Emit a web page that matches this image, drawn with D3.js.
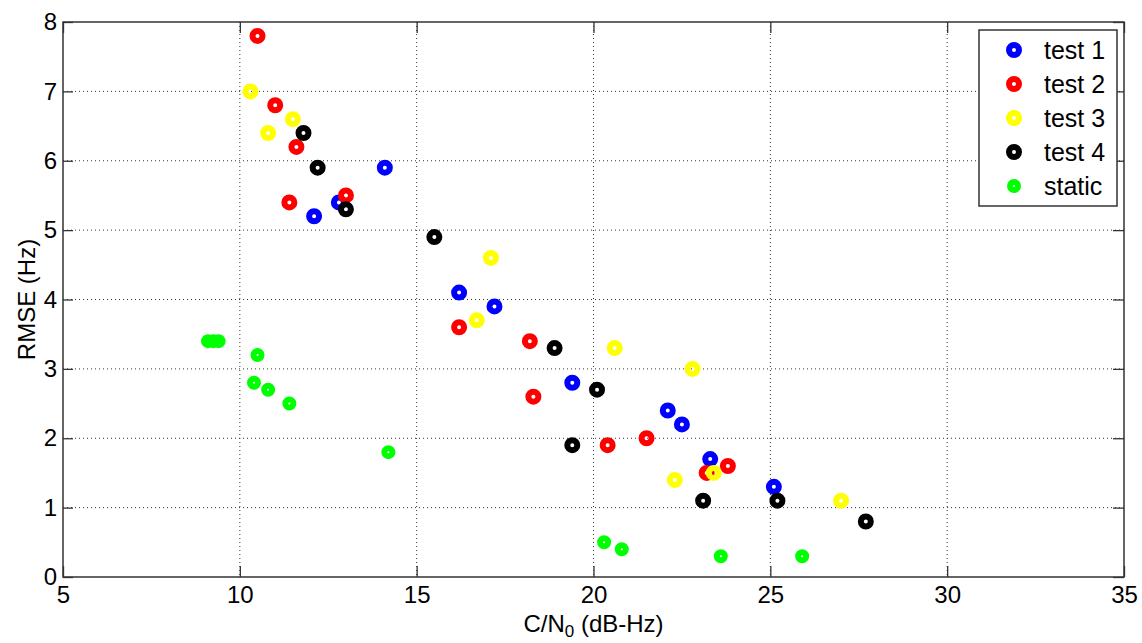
<!doctype html>
<html lang="en">
<head>
<meta charset="utf-8">
<title>RMSE vs C/N0</title>
<style>
body { margin: 0; background: #fff; }
svg text { font-family: "Liberation Sans", Arial, sans-serif; fill: #000; }
.grid line { stroke: #333; stroke-width: 1; stroke-dasharray: 1,3; }
</style>
<script src="https://d3js.org/d3.v7.min.js"></script>
</head>
<body>
<div id="chart"></div>
<script>

// C/N0 (dB-Hz) and RMSE (Hz)
let test1_x = [14.1, 12.1, 12.8, 16.2, 17.2, 19.4, 22.1, 22.5, 23.3, 25.1];
let test1_y = [5.9, 5.2, 5.4, 4.1, 3.9, 2.8, 2.4, 2.2, 1.7, 1.3];

let test2_x = [10.5, 11.0, 11.6, 11.4, 13.0, 16.2, 18.2, 18.3, 21.5, 20.4, 23.8, 23.2];
let test2_y = [7.8, 6.8, 6.2, 5.4, 5.5, 3.6, 3.4, 2.6, 2.0, 1.9, 1.6, 1.5];

let test3_x = [10.3, 11.5, 10.8, 17.1, 16.7, 20.6, 22.8, 23.4, 22.3, 27.0];
let test3_y = [7.0, 6.6, 6.4, 4.6, 3.7, 3.3, 3.0, 1.5, 1.4, 1.1];

let test4_x = [11.8, 12.2, 13.0, 15.5, 18.9, 20.1, 19.4, 23.1, 25.2, 27.7];
let test4_y = [6.4, 5.9, 5.3, 4.9, 3.3, 2.7, 1.9, 1.1, 1.1, 0.8];

let static_x = [9.1, 9.25, 9.4, 10.5, 10.4, 10.8, 11.4, 14.2, 20.3, 20.8, 23.6, 25.9];
let static_y = [3.4, 3.4, 3.4, 3.2, 2.8, 2.7, 2.5, 1.8, 0.5, 0.4, 0.3, 0.3];

let series_names = ['test 1', 'test 2', 'test 3', 'test 4', 'static'];
let series_colors = ['#0000ff', '#ff0000', '#ffff00', '#000000', '#00ff00'];

let x_ticks = [5, 10, 15, 20, 25, 30, 35];
let y_ticks = [0, 1, 2, 3, 4, 5, 6, 7, 8];

let series = [
  {x: test1_x, y: test1_y},
  {x: test2_x, y: test2_y},
  {x: test3_x, y: test3_y},
  {x: test4_x, y: test4_y},
  {x: static_x, y: static_y}
].map(function(s, i) {
  return {
    name: series_names[i],
    color: series_colors[i],
    small: series_names[i] === 'static',
    points: s.x.map(function(v, j) { return [v, s.y[j]]; })
  };
});

let w = 1142, h = 643;
// plot box edges (can't use "top", window.top is taken)
let x0 = 63, x1 = 1124, y0 = 22, y1 = 577;

let svg = d3.select('#chart').append('svg')
  .attr('width', w)
  .attr('height', h);

let x = d3.scaleLinear().domain([5, 35]).range([x0, x1]);
let y = d3.scaleLinear().domain([0, 8]).range([y1, y0]);

// dotted grid, inner ticks only
let grid = svg.append('g').attr('class', 'grid');
grid.selectAll('.vx')
  .data(x_ticks.slice(1, -1))
  .enter().append('line')
  .attr('x1', d => x(d)).attr('x2', d => x(d))
  .attr('y1', y0).attr('y2', y1);
grid.selectAll('.hy')
  .data(y_ticks.slice(1, -1))
  .enter().append('line')
  .attr('y1', d => y(d)).attr('y2', d => y(d))
  .attr('x1', x0).attr('x2', x1);

// axes with inward ticks (matlab style)
function style_axis(g) {
  g.select('.domain').remove();
  g.selectAll('.tick line').attr('stroke', '#333').attr('stroke-width', 1.3);
  g.selectAll('.tick text')
    .style('font-size', '24px')
    .attr('fill', '#000');
}

svg.append('g')
  .attr('transform', 'translate(0,' + y1 + ')')
  .call(d3.axisBottom(x).tickValues(x_ticks).tickSizeInner(-11).tickPadding(9))
  .call(style_axis);

svg.append('g')
  .attr('transform', 'translate(0,' + y0 + ')')
  .call(d3.axisTop(x).tickValues(x_ticks).tickSizeInner(-11).tickFormat(''))
  .call(style_axis);

svg.append('g')
  .attr('transform', 'translate(' + x0 + ',0)')
  .call(d3.axisLeft(y).tickValues(y_ticks).tickSizeInner(-10).tickPadding(6))
  .call(style_axis);

svg.append('g')
  .attr('transform', 'translate(' + x1 + ',0)')
  .call(d3.axisRight(y).tickValues(y_ticks).tickSizeInner(-11).tickFormat(''))
  .call(style_axis);

// box
svg.append('rect')
  .attr('x', x0).attr('y', y0)
  .attr('width', x1 - x0).attr('height', y1 - y0)
  .attr('fill', 'none')
  .attr('stroke', '#333')
  .attr('stroke-width', 1.5);

// markers, drawn series by series
let marks = svg.append('g');
series.forEach(function(s) {
  marks.append('g').selectAll('circle')
    .data(s.points)
    .enter().append('circle')
    .attr('cx', d => x(d[0]))
    .attr('cy', d => y(d[1]))
    .attr('r', s.small ? 4 : 5)
    .attr('fill', 'none')
    .attr('stroke', s.color)
    .attr('stroke-width', 6);
});

// axis labels
svg.append('text')
  .attr('x', (x0 + x1) / 2)
  .attr('y', 632)
  .attr('text-anchor', 'middle')
  .style('font-size', '24px')
  .html('C/N<tspan dy="5" font-size="17px">0</tspan><tspan dy="-5"> (dB-Hz)</tspan>');

svg.append('text')
  .attr('transform', 'translate(35,' + ((y0 + y1) / 2) + ') rotate(-90)')
  .attr('text-anchor', 'middle')
  .style('font-size', '24px')
  .text('RMSE (Hz)');

// legend
let legend = svg.append('g');
legend.append('rect')
  .attr('x', 979).attr('y', 30)
  .attr('width', 138).attr('height', 176)
  .attr('fill', '#fff')
  .attr('stroke', '#333')
  .attr('stroke-width', 1.5);

let items = legend.selectAll('.item')
  .data(series)
  .enter().append('g')
  .attr('transform', (d, i) => 'translate(0,' + (50 + i * 34) + ')');

items.append('circle')
  .attr('cx', 1014)
  .attr('r', d => d.small ? 4 : 5)
  .attr('fill', 'none')
  .attr('stroke', d => d.color)
  .attr('stroke-width', 6);

items.append('text')
  .attr('x', 1044)
  .attr('dy', '0.36em')
  .style('font-size', '25px')
  .text(d => d.name);

</script>
</body>
</html>
